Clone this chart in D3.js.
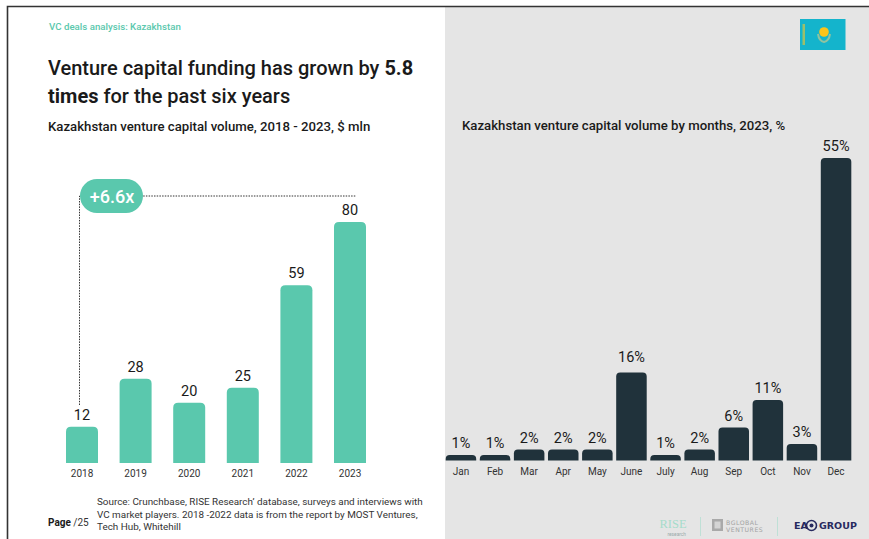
<!DOCTYPE html>
<html>
<head>
<meta charset="utf-8">
<script src="https://cdn.jsdelivr.net/npm/d3@7/dist/d3.min.js"></script>
<style>
html,body{margin:0;padding:0;background:#fff;overflow:hidden}
svg{display:block;font-family:Roboto,sans-serif}
</style>
</head>
<body>
<svg id="page" width="869" height="539"></svg>
<script>
// Annual volume, $ mln
const years = ["2018","2019","2020","2021","2022","2023"];
const yearValues = [12,28,20,25,59,80];
// Monthly share of 2023 volume, %
const months = ["Jan","Feb","Mar","Apr","May","June","July","Aug","Sep","Oct","Nov","Dec"];
const monthValues = [1,1,2,2,2,16,1,2,6,11,3,55];
const sourceLines = [
  "Source: Crunchbase, RISE Research’ database, surveys and interviews with",
  "VC market players. 2018 -2022 data is from the report by MOST Ventures,",
  "Tech Hub, Whitehill"
];

const svg = d3.select("#page");
const TEAL = "#5ac8ad", DARK = "#20323b", INK = "#1a1a1a", GREY = "#e5e5e5";

// Page background and frame
svg.append("rect").attr("x",445).attr("y",6).attr("width",424).attr("height",533).attr("fill",GREY);
svg.append("path").attr("d","M7.5 539V6.5H869").attr("fill","none").attr("stroke","#333").attr("stroke-width",1.6);

function text(x,y,str,size,opts={}){
  return svg.append("text").attr("x",x).attr("y",y).attr("font-size",size)
    .attr("fill",opts.fill||INK).attr("font-weight",opts.weight||400)
    .attr("text-anchor",opts.anchor||"start").text(str);
}

// Headings
text(49,30,"VC deals analysis: Kazakhstan",9.7,{fill:TEAL,weight:500});
const h1 = text(48,75,"Venture capital funding has grown by ",20,{weight:500});
h1.append("tspan").attr("font-weight",700).text("5.8");
const h2 = svg.append("text").attr("x",48).attr("y",103).attr("font-size",20).attr("fill",INK).attr("font-weight",500);
h2.append("tspan").attr("font-weight",700).text("times");
h2.append("tspan").text(" for the past six years");
text(48,131,"Kazakhstan venture capital volume, 2018 - 2023, $ mln",13.2,{weight:500});
text(462,130,"Kazakhstan venture capital volume by months, 2023, %",13.2,{weight:500});

// Column with rounded top corners, anchored on the baseline
function columnPath(x,y,w,h,r){
  const rr = Math.min(r,h,w/2);
  return `M${x} ${y+h}V${y+rr}Q${x} ${y} ${x+rr} ${y}H${x+w-rr}Q${x+w} ${y} ${x+w} ${y+rr}V${y+h}Z`;
}

function barChart(cats,vals,xRange,yRange,maxVal,padding,color,radius,fmt,tickGap,lift){
  const x = d3.scaleBand().domain(cats).range(xRange).paddingInner(padding).paddingOuter(padding/2);
  const y = d3.scaleLinear().domain([0,maxVal]).range(yRange);
  const g = svg.append("g");
  g.selectAll("path.col").data(vals).join("path").attr("class","col")
    .attr("fill",color)
    .attr("d",(d,i)=>columnPath(x(cats[i]),y(d),x.bandwidth(),y(0)-y(d),radius));
  g.selectAll("text.val").data(vals).join("text").attr("class","val")
    .attr("x",(d,i)=>x(cats[i])+x.bandwidth()/2)
    .attr("y",(d,i)=>y(d)-7-(lift[cats[i]]||0))
    .attr("text-anchor","middle").attr("font-size",14.5).attr("fill",INK).text(fmt);
  const axis = svg.append("g").attr("transform",`translate(0,${yRange[0]})`)
    .call(d3.axisBottom(x).tickSize(0).tickPadding(tickGap));
  axis.select(".domain").remove();
  axis.selectAll("text").attr("font-size",10).attr("fill","#333").attr("font-family","Roboto,sans-serif");
  return {x,y};
}

const left = barChart(years,yearValues,[55.2,376.8],[463,222],80,0.403,TEAL,5,d=>d,7,{});
barChart(months,monthValues,[443.9,853.1],[460.5,158],55,0.105,DARK,4,d=>d+"%",7,{June:4});

// Growth callout: dotted bracket from 2018 to 2023 with a pill label
const x0 = left.x("2018")+left.x.bandwidth()/2 - 2.5, xEnd = left.x("2023")+left.x.bandwidth()/2 + 6;
svg.append("path").attr("d",`M${x0} 405V196H${xEnd}`).attr("fill","none")
  .attr("stroke","#333").attr("stroke-width",1).attr("stroke-dasharray","1.5 1.2");
svg.append("rect").attr("x",80).attr("y",179).attr("width",63).attr("height",34).attr("rx",17).attr("fill",TEAL);
text(112,203,"+6.6x",18,{fill:"#fff",weight:500,anchor:"middle"});

// Footer
sourceLines.forEach((l,i)=>text(97,505+i*12.6,l,9.9,{fill:"#333"}));
const page = text(48,526,"Page",10,{weight:700});
page.append("tspan").attr("font-weight",400).attr("fill","#333").text(" /25");

// Flag of Kazakhstan
const flag = svg.append("g").attr("transform","translate(800,19)");
flag.append("rect").attr("width",45.5).attr("height",31).attr("fill","#14b4cc");
flag.append("rect").attr("x",2.5).attr("y",5).attr("width",2.5).attr("height",21).attr("fill","#9cbf6a");
flag.append("circle").attr("cx",24).attr("cy",13).attr("r",4.8).attr("fill","#fcc419");
flag.append("path").attr("d","M18 15Q19 22 24 23Q29 22 30 15").attr("fill","none").attr("stroke","#8fc3a0").attr("stroke-width",2);

// Partner marks
text(673,527.5,"RISE",12.5,{fill:"#a5dccb",anchor:"middle"}).attr("font-family","Liberation Serif");
text(686,536,"research",4.8,{fill:"#9aa",anchor:"end"});
svg.append("line").attr("x1",700.5).attr("x2",700.5).attr("y1",517).attr("y2",536).attr("stroke","#bfe0d6");
svg.append("rect").attr("x",712).attr("y",519).attr("width",11).attr("height",12).attr("fill","#a9a9a9");
svg.append("rect").attr("x",714.5).attr("y",521.5).attr("width",6).attr("height",7).attr("fill","#d4d4d4");
text(726,524.5,"BGLOBAL",6.2,{fill:"#a3a3a3",weight:500}).attr("font-family","DejaVu Sans").attr("letter-spacing",0.5);
text(726,532,"VENTURES",6.2,{fill:"#a3a3a3",weight:500}).attr("font-family","DejaVu Sans").attr("letter-spacing",0.5);
svg.append("line").attr("x1",777.5).attr("x2",777.5).attr("y1",517).attr("y2",536).attr("stroke","#bfe0d6");
text(794,529,"EA",9.5,{fill:"#27295f",weight:700}).attr("font-family","DejaVu Sans");
svg.append("circle").attr("cx",811.5).attr("cy",525.5).attr("r",5).attr("fill","none").attr("stroke","#27295f").attr("stroke-width",1.6);
svg.append("circle").attr("cx",811.5).attr("cy",525.5).attr("r",2).attr("fill","#27295f");
text(819,529,"GROUP",9.5,{fill:"#27295f",weight:700}).attr("font-family","DejaVu Sans");
</script>
</body>
</html>
